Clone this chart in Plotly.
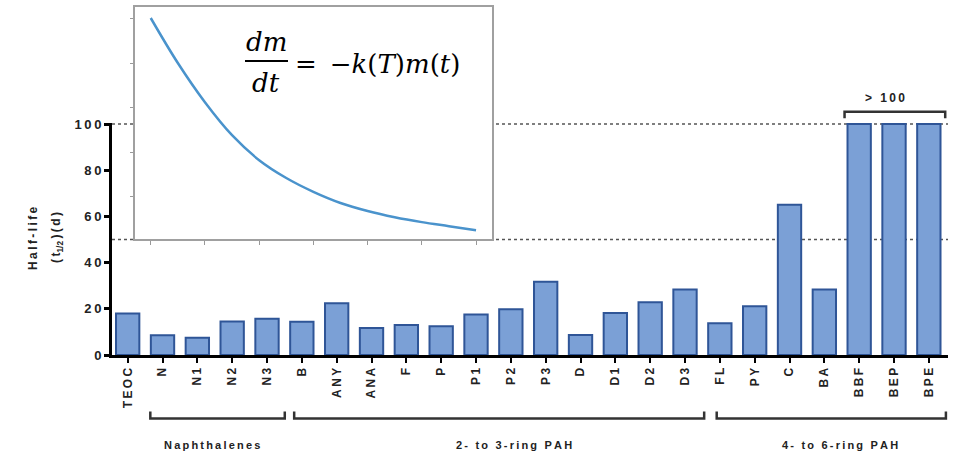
import plotly.graph_objects as go

# ---------------- data ----------------
categories = ["TEOC", "N", "N1", "N2", "N3", "B", "ANY", "ANA", "F", "P", "P1", "P2",
              "P3", "D", "D1", "D2", "D3", "FL", "PY", "C", "BA", "BBF", "BEP", "BPE"]
half_life = [18.0, 8.5, 7.5, 14.5, 15.7, 14.4, 22.4, 11.7, 13.0, 12.4, 17.5, 19.8,
             31.7, 8.7, 18.2, 22.8, 28.4, 13.7, 21.1, 65.0, 28.4, 100.0, 100.0, 100.0]
y_ticks = [0, 20, 40, 60, 80, 100]
group_labels = ["Naphthalenes", "2- to 3-ring PAH", "4- to 6-ring PAH"]
ref_levels = [100, 50]
cap_label = "> 100"

# inset decay curve
inset_t = [0, 0.5, 1, 1.5, 2, 2.5, 3, 3.5, 4, 4.5, 5, 5.5, 6]
inset_m = [5.01, 4.0, 3.12, 2.38, 1.82, 1.42, 1.11, 0.86, 0.68, 0.54, 0.43, 0.34, 0.25]

# ---------------- helpers ----------------
TS = "\u2009"


def spaced(s):
    return TS.join(list(s))


W, H = 953, 454
ML, MR, MT, MB = 112, 5, 0, 99
PW = W - ML - MR
PH = H - MT - MB


def px_x(px):
    return (px - ML) / PW


def px_y(py):
    return (H - MB - py) / PH


BOLD = dict(family="Liberation Sans, Arial, sans-serif", size=12, color="#222222", weight="bold")

fig = go.Figure()

fig.add_trace(go.Bar(
    x=categories, y=half_life,
    marker=dict(color="#7ba0d6", line=dict(color="#2f5597", width=2)),
    showlegend=False, hoverinfo="x+y",
))

fig.add_trace(go.Scatter(
    x=inset_t, y=inset_m, mode="lines", xaxis="x2", yaxis="y2",
    line=dict(color="#4a93cc", width=2.5, shape="spline"), showlegend=False,
))

shapes = []
for lv in ref_levels:
    shapes.append(dict(type="line", xref="paper", yref="y", x0=0, x1=1, y0=lv, y1=lv,
                       line=dict(color="#555555", width=1.5, dash="dot"), layer="below"))
shapes.append(dict(type="rect", xref="paper", yref="paper",
                   x0=px_x(135), x1=px_x(492.3), y0=px_y(239.3), y1=px_y(7.3),
                   fillcolor="white", line=dict(width=0), layer="below"))

group_spans = [(0.65, 4.51), (4.78, 16.55), (16.91, 23.49)]
yb, yt = px_y(418.5), px_y(411.5)
for (a, b) in group_spans:
    shapes.append(dict(type="path", xref="x", yref="paper",
                       path=f"M {a},{yt} L {a},{yb} L {b},{yb} L {b},{yt}",
                       line=dict(color="#333333", width=2.5)))
yb2, yt2 = px_y(118.3), px_y(111.7)
shapes.append(dict(type="path", xref="x", yref="paper",
                   path=f"M 20.58,{yb2} L 20.58,{yt2} L 23.47,{yt2} L 23.47,{yb2}",
                   line=dict(color="#333333", width=2.5)))
shapes.append(dict(type="line", xref="paper", yref="paper",
                   x0=px_x(245), x1=px_x(288), y0=px_y(61), y1=px_y(61),
                   line=dict(color="black", width=2)))

annotations = []


def ann(**kw):
    base = dict(showarrow=False, xanchor="center", yanchor="middle")
    base.update(kw)
    annotations.append(base)


label_x = [2.42, 11.09, 20.45]
for lab, lx in zip(group_labels, label_x):
    ann(xref="x", yref="paper", x=lx, y=px_y(445), text=spaced(lab), font=dict(BOLD, size=11))
ann(xref="x", yref="paper", x=21.73, y=px_y(98.3), text=spaced(cap_label), font=dict(BOLD, size=12))
ann(xref="paper", yref="paper", x=px_x(33), y=px_y(238), text=spaced("Half-life"),
    textangle=-90, font=dict(BOLD, size=12))
ann(xref="paper", yref="paper", x=px_x(57), y=px_y(238),
    text=f"({TS}t<sub>1/2</sub>{TS}){TS}({TS}d{TS})", textangle=-90, font=dict(BOLD, size=12))
EQ = dict(family="DejaVu Serif, Liberation Serif, serif", size=26, color="black")
ann(xref="paper", yref="paper", x=px_x(266), y=px_y(42), text="dm", font=dict(EQ, style="italic"))
ann(xref="paper", yref="paper", x=px_x(266), y=px_y(83), text="dt", font=dict(EQ, style="italic"))
ann(xref="paper", yref="paper", x=px_x(293), y=px_y(64), xanchor="left",
    text="=\u2002\u2212<i>k</i>(<i>T</i>)<i>m</i>(<i>t</i>)", font=EQ)

y_top = 100.6
fig.update_layout(
    width=W, height=H,
    margin=dict(l=ML, r=MR, t=MT, b=MB, autoexpand=False),
    paper_bgcolor="white", plot_bgcolor="white",
    bargap=0.33,
    xaxis=dict(type="category", range=[-0.45, 23.55], tickmode="array", automargin=False,
               tickvals=categories, ticktext=[spaced(c) for c in categories],
               tickangle=-90, ticks="outside", ticklen=5, tickwidth=2, tickcolor="black",
               showline=True, linewidth=3, linecolor="black", showgrid=False, zeroline=False,
               tickfont=BOLD),
    yaxis=dict(domain=[0, (231 * y_top / 100) / PH], range=[0, y_top], tickmode="array",
               automargin=False,
               tickvals=y_ticks, ticktext=[spaced(str(v)) for v in y_ticks],
               ticks="outside", ticklen=5, tickwidth=2.5, tickcolor="black",
               showline=True, linewidth=3, linecolor="black", showgrid=False, zeroline=False,
               tickfont=dict(BOLD, size=13)),
    xaxis2=dict(domain=[px_x(135), px_x(492.3)], anchor="y2", range=[-0.29, 6.30],
                automargin=False,
                tickmode="array", tickvals=[0, 1, 2, 3, 4, 5, 6], showticklabels=False,
                ticks="outside", ticklen=4, tickwidth=1, tickcolor="#999999",
                showline=True, mirror=True, linecolor="#a0a0a0", linewidth=1.5,
                showgrid=False, zeroline=False),
    yaxis2=dict(domain=[px_y(239.3), px_y(7.3)], anchor="x2", range=[0.045, 5.25],
                automargin=False,
                tickmode="array", tickvals=[1, 2, 3, 4, 5], showticklabels=False,
                ticks="outside", ticklen=3, tickwidth=1, tickcolor="#999999",
                showline=True, mirror=True, linecolor="#a0a0a0", linewidth=1.5,
                showgrid=False, zeroline=False),
    shapes=shapes,
    annotations=annotations,
)

fig.write_html("out.html")
